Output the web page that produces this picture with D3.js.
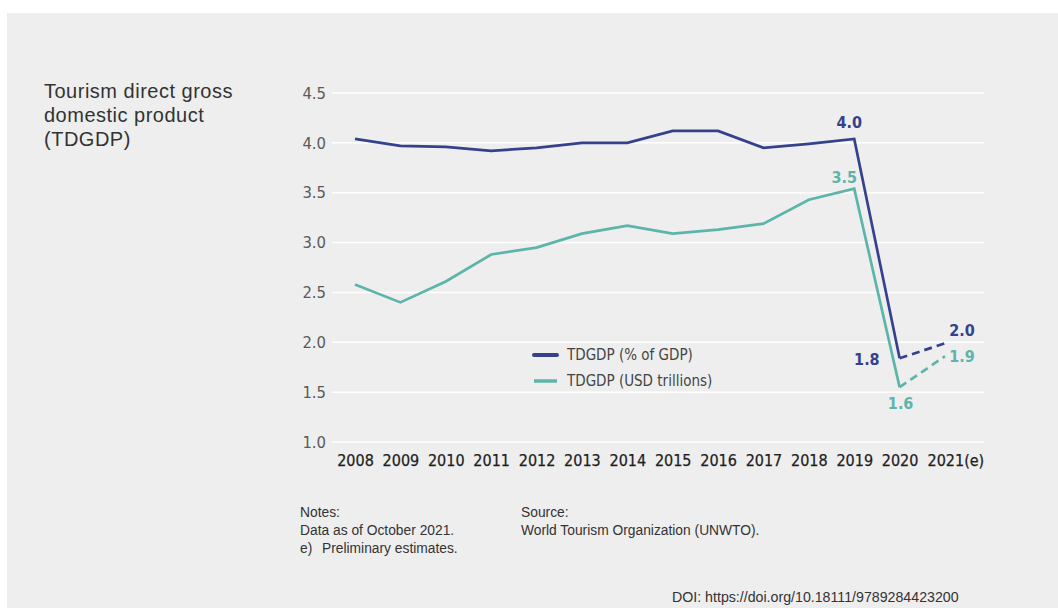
<!DOCTYPE html>
<html>
<head>
<meta charset="utf-8">
<script src="https://cdn.jsdelivr.net/npm/d3@7"></script>
<style>
  html, body { margin: 0; padding: 0; background: #ffffff; }
  svg { display: block; }
</style>
</head>
<body>
<svg id="chart" width="1058" height="608"></svg>
<script>
// Years on the x axis (last one is a preliminary estimate)
const years = ["2008","2009","2010","2011","2012","2013","2014","2015","2016","2017","2018","2019","2020","2021"];
const yearLabels = ["2008","2009","2010","2011","2012","2013","2014","2015","2016","2017","2018","2019","2020","2021(e)"];
// TDGDP as % of GDP
const pctGdp = [4.04, 3.97, 3.96, 3.92, 3.95, 4.00, 4.00, 4.12, 4.12, 3.95, 3.99, 4.04, 1.84, 1.99];
// TDGDP in USD trillions
const usdTrillions = [2.58, 2.40, 2.61, 2.88, 2.95, 3.09, 3.17, 3.09, 3.13, 3.19, 3.43, 3.54, 1.55, 1.86];
const yTicks = [1.0, 1.5, 2.0, 2.5, 3.0, 3.5, 4.0, 4.5];
const seriesNames = ["TDGDP (% of GDP)", "TDGDP (USD trillions)"];

const NAVY = "#36418e";
const TEAL = "#5db5aa";
const condensed = "'DejaVu Sans Condensed', 'DejaVu Sans', sans-serif";
const sans = "'Liberation Sans', Arial, sans-serif";

const svg = d3.select("#chart");

// panel background
svg.append("rect").attr("x", 7).attr("y", 13).attr("width", 1051).attr("height", 595).attr("fill", "#eeeeee");

const x = d3.scalePoint().domain(years).range([355, 945]);
const y = d3.scaleLinear().domain([1.0, 4.5]).range([442, 93]);

// gridlines
svg.append("g").selectAll("line").data(yTicks).join("line")
  .attr("x1", 332).attr("x2", 984)
  .attr("y1", d => y(d)).attr("y2", d => y(d))
  .attr("stroke", "#ffffff").attr("stroke-width", 1.5);

// y axis labels
const yAxis = d3.axisLeft(y).tickValues(yTicks).tickFormat(d3.format(".1f")).tickSize(0).tickPadding(0);
const gy = svg.append("g").attr("transform", "translate(326,0)").call(yAxis);
gy.select(".domain").remove();
gy.selectAll("text").attr("fill", "#5a5a5a").style("font-family", condensed).style("font-size", "16.5px");

// x axis labels
const xAxis = d3.axisBottom(x).tickSize(0).tickPadding(0).tickFormat((d, i) => yearLabels[i]);
const gx = svg.append("g").attr("transform", "translate(0,455)").call(xAxis);
gx.select(".domain").remove();
gx.selectAll("text").attr("fill", "#1e1e1e").style("font-family", condensed).style("font-size", "16px")
  .attr("stroke", "#1e1e1e").attr("stroke-width", 0.25)
  .attr("text-anchor", (d, i) => i === years.length - 1 ? "start" : "middle")
  .attr("dx", (d, i) => i === years.length - 1 ? "-18" : "0");

// series lines: solid through 2020, dashed for the 2021 estimate
const line = d3.line().x(d => x(d.year)).y(d => y(d.v));
function drawSeries(values, color) {
  const pts = values.map((v, i) => ({ year: years[i], v }));
  svg.append("path").datum(pts.slice(0, 13)).attr("d", line)
    .attr("fill", "none").attr("stroke", color).attr("stroke-width", 2.7).attr("stroke-linejoin", "miter");
  svg.append("path").datum(pts.slice(12)).attr("d", line)
    .attr("fill", "none").attr("stroke", color).attr("stroke-width", 2.7).attr("stroke-dasharray", "8,5");
}
drawSeries(pctGdp, NAVY);
drawSeries(usdTrillions, TEAL);

// value annotations
const fmt = d3.format(".1f");
const annotations = [
  { s: pctGdp, i: 11, color: NAVY, dx: -5, dy: -11, anchor: "middle" },
  { s: usdTrillions, i: 11, color: TEAL, dx: -10, dy: -6, anchor: "middle" },
  { s: pctGdp, i: 12, color: NAVY, dx: -20, dy: 7, anchor: "end" },
  { s: usdTrillions, i: 12, color: TEAL, dx: 1, dy: 22, anchor: "middle" },
  { s: pctGdp, i: 13, color: NAVY, dx: 17, dy: -7, anchor: "middle" },
  { s: usdTrillions, i: 13, color: TEAL, dx: 17, dy: 6, anchor: "middle" }
];
svg.append("g").selectAll("text").data(annotations).join("text")
  .attr("x", d => x(years[d.i]) + d.dx)
  .attr("y", d => y(d.s[d.i]) + d.dy)
  .attr("text-anchor", d => d.anchor)
  .attr("fill", d => d.color)
  .style("font-family", condensed).style("font-weight", "bold").style("font-size", "16px")
  .text(d => d.i === 12 && d.s === pctGdp ? "1.8" : fmt(d.s[d.i]));

// legend
const legend = svg.append("g");
[NAVY, TEAL].forEach((c, i) => {
  const ly = 355 + i * 26;
  legend.append("line").attr("x1", 534).attr("x2", 557).attr("y1", ly).attr("y2", ly)
    .attr("stroke", c).attr("stroke-width", i === 0 ? 4 : 3.5).attr("stroke-linecap", i === 0 ? "round" : "butt");
  legend.append("text").attr("x", 567).attr("y", ly + 5).text(seriesNames[i])
    .attr("fill", "#444").style("font-family", condensed).style("font-size", "15px");
});

// title
const title = svg.append("text").attr("fill", "#333").style("font-family", sans)
  .style("font-size", "20px").style("letter-spacing", "0.5px");
["Tourism direct gross", "domestic product", "(TDGDP)"].forEach((t, i) => {
  title.append("tspan").attr("x", 44).attr("y", 98 + i * 24).text(t);
});

// notes and source
function smallText(tx, ty, str, size) {
  svg.append("text").attr("x", tx).attr("y", ty).text(str)
    .attr("fill", "#333").style("font-family", sans).style("font-size", size || "13.8px");
}
smallText(300, 517, "Notes:");
smallText(300, 535, "Data as of October 2021.");
smallText(300, 553, "e)");
smallText(322, 553, "Preliminary estimates.");
smallText(521, 517, "Source:");
smallText(521, 535, "World Tourism Organization (UNWTO).");
smallText(672, 602, "DOI: https://doi.org/10.18111/9789284423200", "14.2px");
</script>
</body>
</html>
